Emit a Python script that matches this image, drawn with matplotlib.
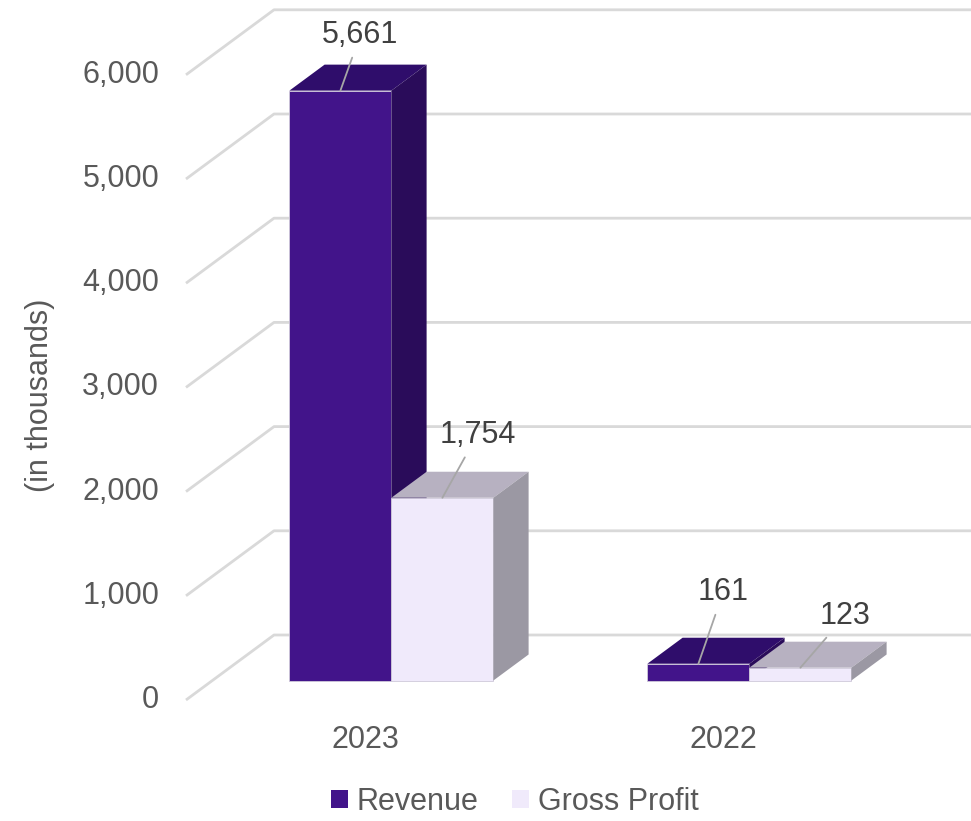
import numpy as np
import matplotlib.pyplot as plt
from matplotlib.patches import Polygon, Patch

# data
years = ['2023', '2022']
revenue = [5661, 161]
gross_profit = [1754, 123]
ticks = [0, 1000, 2000, 3000, 4000, 5000, 6000]
series_names = ['Revenue', 'Gross Profit']

# colours: front, top, side
rev_cols = ('#42148A', '#2F0D6B', '#2A0C5A')
gp_cols = ('#F0EAFB', '#B7B1C1', '#9B98A3')
txt = '#595959'
lbl = '#404040'
grid = '#D9D9D9'

W, H = 971, 821
fig = plt.figure(figsize=(W / 100, H / 100), dpi=100)
plt.rcParams['font.family'] = ['Liberation Sans', 'DejaVu Sans']
ax = fig.add_axes([0, 0, 1, 1])
ax.axis('off')

# layout (pixels) -> data scales
px_cat = 358.0
px_val = 0.1042
x0_px, y0_px = 365.0, 700.0
ax.set_xlim(-x0_px / px_cat, (W - x0_px) / px_cat)
ax.set_ylim((y0_px - H) / px_val, y0_px / px_val)

DX = 88 / px_cat      # depth shift in x per unit depth
DV = 65 / px_val      # depth shift in value per unit depth
zf, zb = 0.3, 0.7     # bar front/back depth
bw = 102 / px_cat
XL = -0.5
XR = 2.0


def P(x, v, z):
    return (x + DX * z, v + DV * z)


# walls gridlines
for t in ticks:
    a = P(XL, t, 0)
    b = P(XL, t, 1)
    c = P(XR, t, 1)
    ax.plot([a[0], b[0], c[0]], [a[1], b[1], c[1]], color=grid, lw=2, zorder=1,
            solid_capstyle='butt')
    ax.text(XL - 0.075, t, f'{t:,}', ha='right', va='center', fontsize=22, color=txt)

x = np.arange(len(years))


def bar3d(xl, v, cols):
    xr = xl + bw
    ax.bar(xl + DX * zf, v, width=bw, bottom=DV * zf, align='edge', color=cols[0],
           edgecolor='#CFC9DA', linewidth=0.6, zorder=3)
    top = [P(xl, v, zf), P(xr, v, zf), P(xr, v, zb), P(xl, v, zb)]
    side = [P(xr, 0, zf), P(xr, 0, zb), P(xr, v, zb), P(xr, v, zf)]
    ax.add_patch(Polygon(top, closed=True, facecolor=cols[1], edgecolor='none', zorder=3))
    ax.add_patch(Polygon(side, closed=True, facecolor=cols[2], edgecolor='none', zorder=3))


offsets = {(0, 0): (20, 56), (0, 1): (35, 63), (1, 0): (25, 72), (1, 1): (45, 52)}

for i in x:
    bar3d(i - bw, revenue[i], rev_cols)
    bar3d(i, gross_profit[i], gp_cols)
    for s, (xl, v) in enumerate([(i - bw, revenue[i]), (i, gross_profit[i])]):
        px, py = P(xl + bw / 2, v, zf)
        ax.annotate(f'{v:,}', xy=(px, py), xytext=offsets[(i, s)], textcoords='offset pixels',
                    ha='center', va='center', fontsize=22, color=lbl, zorder=5,
                    arrowprops=dict(arrowstyle='-', color='#A6A6A6', lw=1.3,
                                    shrinkA=4, shrinkB=0))
    ax.annotate(years[i], xy=(i, 0), xytext=(0, -40), textcoords='offset pixels',
                ha='center', va='center', fontsize=22, color=txt)

fig.text(40 / W, 1 - 395 / H, '(in thousands)', rotation=90, ha='center', va='center',
         fontsize=22, color=txt)

handles = [Patch(facecolor=rev_cols[0]), Patch(facecolor=gp_cols[0])]
fig.legend(handles, series_names, loc='center', bbox_to_anchor=(515 / W, 1 - 802 / H),
           ncol=2, frameon=False, fontsize=22, labelcolor=txt, handlelength=0.55,
           handleheight=0.55, handletextpad=0.3, columnspacing=1.1, borderpad=0)

fig.savefig('out.png', dpi=100)
